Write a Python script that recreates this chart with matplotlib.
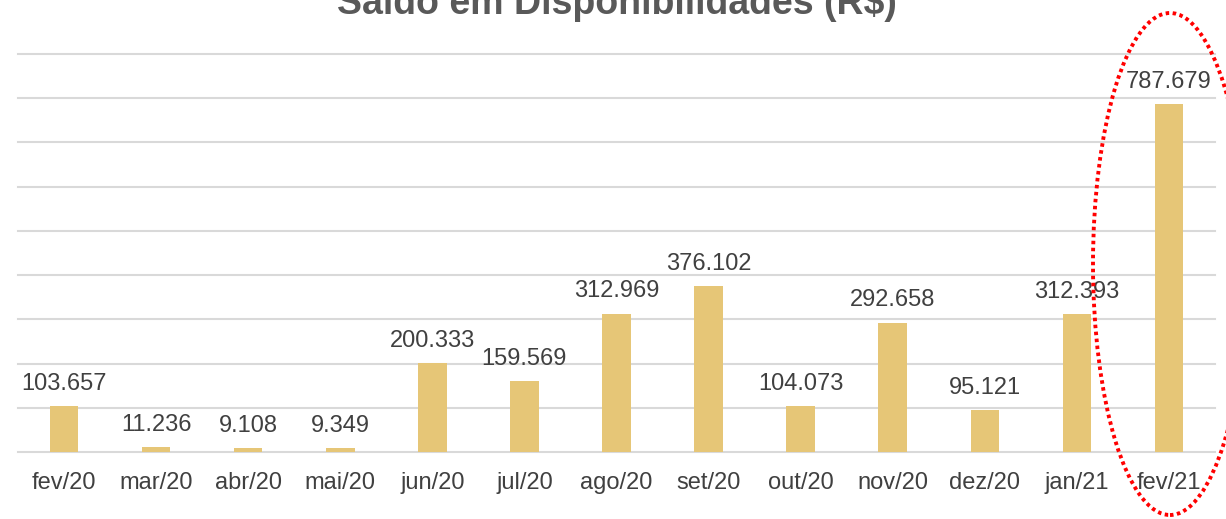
import matplotlib
matplotlib.use("Agg")
import matplotlib.pyplot as plt
from matplotlib.patches import Ellipse

categories = ["fev/20", "mar/20", "abr/20", "mai/20", "jun/20", "jul/20", "ago/20",
              "set/20", "out/20", "nov/20", "dez/20", "jan/21", "fev/21"]
values = [103657, 11236, 9108, 9349, 200333, 159569, 312969,
          376102, 104073, 292658, 95121, 312393, 787679]
title = "Saldo em Disponibilidades (R$)"

plt.rcParams['font.family'] = ['Liberation Sans', 'DejaVu Sans']

W, H = 1226, 519
fig = plt.figure(figsize=(W / 100, H / 100), dpi=100)
ax = fig.add_axes([18 / W, 1 - 452 / H, (1215 - 18) / W, (452 - 54) / H])

x = list(range(len(categories)))
bars = ax.bar(x, values, width=0.31, color="#E6C677", zorder=3)

ax.set_xlim(-0.5, len(categories) - 0.5)
ax.set_ylim(0, 900000)
ax.set_yticks(range(0, 900001, 100000))
ax.yaxis.grid(True, color="#D9D9D9", linewidth=1.5, zorder=0)
ax.tick_params(axis="y", left=False, labelleft=False)
ax.tick_params(axis="x", bottom=False, pad=11, labelsize=17, labelcolor="#404040")
ax.set_xticks(x)
ax.set_xticklabels(categories)
for s in ax.spines.values():
    s.set_visible(False)
for gl in ax.get_ygridlines():
    gl.set_clip_on(False)

for xi, v in zip(x, values):
    label = f"{v:,}".replace(",", ".")
    ax.annotate(label, (xi, v), xytext=(0, 8), textcoords="offset points",
                ha="center", va="bottom", fontsize=17, color="#404040", zorder=5)

fig.text(617 / W, 1 - 14 / H, title, ha="center", va="baseline",
         fontsize=27, fontweight="bold", color="#595959")

ell = Ellipse((1170 / W, 1 - 264 / H), width=154 / W, height=502 / H,
              transform=fig.transFigure, fill=False, edgecolor="#FF0000",
              linewidth=2.8, linestyle=(0, (0.9, 0.9)), zorder=10)
fig.patches.append(ell)

fig.savefig("out.png", dpi=100)
